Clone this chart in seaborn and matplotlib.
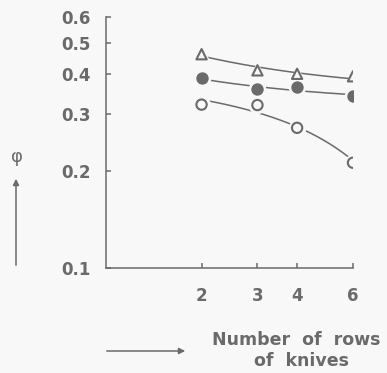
import numpy as np
import pandas as pd
import matplotlib
matplotlib.use("Agg")
import matplotlib.pyplot as plt
import seaborn as sns

# Number of rows of knives and measured phi for three series
rows = [2, 3, 4, 6]
phi_triangle = [0.46, 0.41, 0.40, 0.393]
phi_filled = [0.387, 0.358, 0.363, 0.342]
phi_open = [0.321, 0.32, 0.272, 0.212]

y_ticks = [0.1, 0.2, 0.3, 0.4, 0.5, 0.6]
x_ticks = [2, 3, 4, 6]

BG = "#f8f8f8"
INK = "#6a6a6a"

sns.set_style("ticks")
plt.rcParams["font.family"] = ["DejaVu Sans"]

fig = plt.figure(figsize=(3.87, 3.73), dpi=100, facecolor=BG)
ax = fig.add_axes([106 / 387, 105 / 373, (353 - 106) / 387, (268 - 17) / 373])
ax.set_facecolor(BG)
ax.set_xscale("log")
ax.set_yscale("log")
ax.set_xlim(1.0, 6.0)
ax.set_ylim(0.1, 0.6)

# (name, values, marker, face colour, trend transform of x)
series = [
    ("triangle", phi_triangle, "^", "none", lambda x: 1.0 / np.asarray(x, float)),
    ("filled", phi_filled, "o", INK, lambda x: 1.0 / np.asarray(x, float)),
    ("open", phi_open, "o", "none", lambda x: np.asarray(x, float)),
]

# smooth least-squares trend curve for each series
xs = np.linspace(2, 6, 200)
for name, vals, marker, face, tf in series:
    coef = np.polyfit(tf(rows), vals, 1)
    ys = np.polyval(coef, tf(xs))
    sns.lineplot(x=xs, y=ys, ax=ax, color=INK, lw=1.1, zorder=2)

for name, vals, marker, face, tf in series:
    df = pd.DataFrame({"rows": rows, "phi": vals})
    # background-coloured halo leaves a small gap between curve and marker
    sns.scatterplot(data=df, x="rows", y="phi", ax=ax, marker=marker, s=160,
                    color=BG, edgecolor=BG, linewidth=0, zorder=3)
    sns.scatterplot(data=df, x="rows", y="phi", ax=ax, marker=marker, s=55,
                    facecolor=face, edgecolor=INK, linewidth=1.5, zorder=4)

for side in ["top", "right"]:
    ax.spines[side].set_visible(False)
for side in ["left", "bottom"]:
    ax.spines[side].set_color(INK)
    ax.spines[side].set_linewidth(1.1)

ax.set_yticks(y_ticks)
ax.set_yticklabels([f"{v:.1f}" for v in y_ticks])
ax.yaxis.set_minor_locator(matplotlib.ticker.NullLocator())
ax.set_xticks(x_ticks)
ax.set_xticklabels([str(v) for v in x_ticks])
ax.xaxis.set_minor_locator(matplotlib.ticker.NullLocator())

ax.tick_params(axis="y", direction="in", length=3.5, width=1.1, color=INK,
               labelcolor=INK, labelsize=12, pad=11)
ax.tick_params(axis="x", direction="in", length=3.5, width=1.1, color=INK,
               labelcolor=INK, labelsize=12, pad=13.5)
for lab in ax.get_yticklabels() + ax.get_xticklabels():
    lab.set_fontweight("bold")
ax.set_xlabel("")
ax.set_ylabel("")

# axis captions with arrows
fig.text(17 / 387, 1 - 157 / 373, "φ", color=INK, fontsize=13,
         ha="center", va="center")
fig.add_artist(matplotlib.patches.FancyArrowPatch(
    (16 / 387, 1 - 268 / 373), (16 / 387, 1 - 176 / 373),
    transform=fig.transFigure, arrowstyle="-|>", mutation_scale=9,
    color=INK, lw=1.1))

fig.text(296 / 387, 1 - 340 / 373, "Number  of  rows", color=INK, fontsize=12.5,
         fontweight="bold", ha="center", va="center")
fig.text(301 / 387, 1 - 361 / 373, "of  knives", color=INK, fontsize=12.5,
         fontweight="bold", ha="center", va="center")
fig.add_artist(matplotlib.patches.FancyArrowPatch(
    (104 / 387, 1 - 351 / 373), (188 / 387, 1 - 351 / 373),
    transform=fig.transFigure, arrowstyle="-|>", mutation_scale=9,
    color=INK, lw=1.1))

fig.savefig("out.png", dpi=100, facecolor=BG)
